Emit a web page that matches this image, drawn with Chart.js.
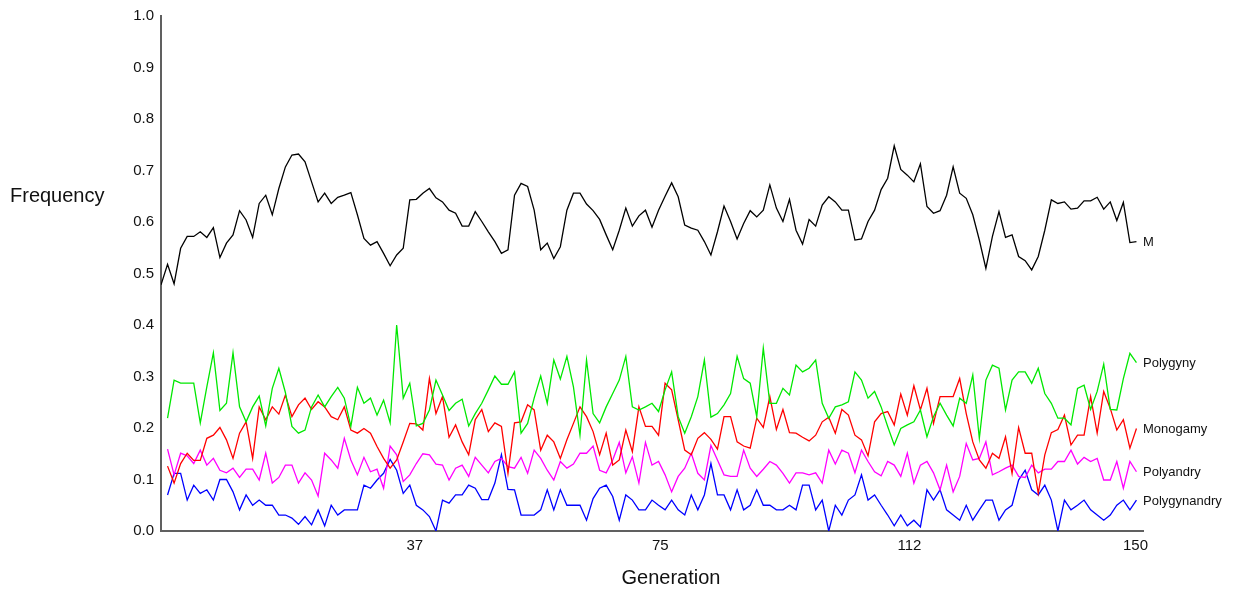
<!DOCTYPE html>
<html>
<head>
<meta charset="utf-8">
<title>Mating system frequencies by generation</title>
<script src="https://cdn.jsdelivr.net/npm/chart.js@4/dist/chart.umd.min.js"></script>
<style>
  html, body { margin: 0; padding: 0; background: #fff; }
  #wrap { width: 1234px; height: 593px; position: relative; }
</style>
</head>
<body>
<div id="wrap"><canvas id="chart"></canvas></div>
<script>
// Generations 0..149
const generations = Array.from({ length: 150 }, (_, i) => i);

// Labels shown on the generation axis (quarter points of 150)
const xTickLabels = ['37', '75', '112', '150'];

// Frequency of M
const freqM = [
  0.478, 0.518, 0.480, 0.549, 0.572, 0.572, 0.581, 0.570, 0.589, 0.531,
  0.559, 0.575, 0.622, 0.604, 0.570, 0.636, 0.652, 0.614, 0.665, 0.707,
  0.730, 0.732, 0.717, 0.678, 0.639, 0.656, 0.636, 0.648, 0.652, 0.657,
  0.614, 0.568, 0.555, 0.562, 0.539, 0.515, 0.536, 0.549, 0.643, 0.644,
  0.656, 0.665, 0.647, 0.639, 0.623, 0.617, 0.592, 0.592, 0.620, 0.601,
  0.581, 0.562, 0.539, 0.546, 0.652, 0.675, 0.669, 0.623, 0.546, 0.559,
  0.529, 0.552, 0.623, 0.656, 0.656, 0.635, 0.622, 0.605, 0.575, 0.546,
  0.584, 0.627, 0.592, 0.612, 0.623, 0.590, 0.623, 0.650, 0.676, 0.649,
  0.594, 0.588, 0.584, 0.562, 0.536, 0.581, 0.631, 0.601, 0.567, 0.597,
  0.622, 0.610, 0.623, 0.672, 0.627, 0.601, 0.644, 0.584, 0.557, 0.605,
  0.592, 0.633, 0.649, 0.639, 0.623, 0.623, 0.565, 0.567, 0.601, 0.623,
  0.663, 0.685, 0.748, 0.702, 0.691, 0.678, 0.713, 0.630, 0.617, 0.622,
  0.652, 0.707, 0.656, 0.646, 0.614, 0.565, 0.510, 0.572, 0.620, 0.570,
  0.575, 0.533, 0.525, 0.507, 0.533, 0.584, 0.643, 0.636, 0.639, 0.625,
  0.627, 0.641, 0.641, 0.648, 0.625, 0.639, 0.603, 0.638, 0.560, 0.562
];

// Frequency of Polygyny (no value at generation 0)
const freqPolygyny = [
  null, 0.219, 0.293, 0.287, 0.287, 0.287, 0.210, 0.280, 0.346, 0.234,
  0.248, 0.346, 0.241, 0.212, 0.241, 0.262, 0.204, 0.277, 0.316, 0.269,
  0.203, 0.190, 0.196, 0.241, 0.264, 0.241, 0.261, 0.279, 0.258, 0.203,
  0.279, 0.248, 0.258, 0.225, 0.254, 0.210, 0.400, 0.258, 0.287, 0.204,
  0.209, 0.235, 0.293, 0.264, 0.234, 0.248, 0.256, 0.204, 0.228, 0.248,
  0.274, 0.301, 0.285, 0.285, 0.309, 0.190, 0.209, 0.258, 0.301, 0.248,
  0.332, 0.295, 0.339, 0.280, 0.186, 0.332, 0.228, 0.210, 0.241, 0.267,
  0.293, 0.339, 0.241, 0.235, 0.241, 0.248, 0.232, 0.274, 0.309, 0.222,
  0.190, 0.222, 0.261, 0.332, 0.221, 0.228, 0.245, 0.267, 0.339, 0.296,
  0.287, 0.222, 0.355, 0.248, 0.248, 0.277, 0.264, 0.322, 0.309, 0.316,
  0.332, 0.248, 0.219, 0.241, 0.245, 0.251, 0.309, 0.293, 0.258, 0.271,
  0.241, 0.203, 0.167, 0.199, 0.206, 0.212, 0.235, 0.183, 0.222, 0.248,
  0.225, 0.204, 0.258, 0.248, 0.303, 0.180, 0.293, 0.322, 0.316, 0.235,
  0.293, 0.309, 0.309, 0.287, 0.316, 0.267, 0.248, 0.219, 0.219, 0.206,
  0.277, 0.283, 0.236, 0.271, 0.324, 0.236, 0.235, 0.296, 0.345, 0.327
];

// Frequency of Monogamy
const freqMonogamy = [
  null, 0.126, 0.093, 0.131, 0.151, 0.137, 0.137, 0.180, 0.186, 0.201,
  0.177, 0.141, 0.190, 0.212, 0.141, 0.241, 0.216, 0.241, 0.227, 0.264,
  0.222, 0.245, 0.258, 0.236, 0.251, 0.241, 0.222, 0.216, 0.241, 0.196,
  0.190, 0.199, 0.190, 0.164, 0.141, 0.122, 0.138, 0.173, 0.209, 0.208,
  0.196, 0.296, 0.228, 0.261, 0.182, 0.206, 0.173, 0.148, 0.216, 0.236,
  0.193, 0.210, 0.203, 0.112, 0.210, 0.212, 0.245, 0.235, 0.157, 0.186,
  0.173, 0.141, 0.177, 0.209, 0.241, 0.222, 0.193, 0.148, 0.190, 0.128,
  0.138, 0.196, 0.154, 0.241, 0.203, 0.203, 0.186, 0.287, 0.274, 0.216,
  0.157, 0.148, 0.180, 0.191, 0.178, 0.159, 0.222, 0.222, 0.173, 0.165,
  0.161, 0.219, 0.201, 0.261, 0.197, 0.236, 0.191, 0.190, 0.182, 0.175,
  0.186, 0.212, 0.221, 0.190, 0.236, 0.225, 0.186, 0.177, 0.146, 0.212,
  0.228, 0.232, 0.206, 0.266, 0.225, 0.282, 0.235, 0.277, 0.209, 0.261,
  0.261, 0.261, 0.296, 0.228, 0.173, 0.138, 0.122, 0.151, 0.141, 0.183,
  0.112, 0.201, 0.151, 0.151, 0.073, 0.148, 0.191, 0.197, 0.225, 0.167,
  0.186, 0.186, 0.261, 0.190, 0.271, 0.238, 0.196, 0.216, 0.161, 0.199
];

// Frequency of Polyandry
const freqPolyandry = [
  null, 0.159, 0.109, 0.151, 0.146, 0.131, 0.157, 0.128, 0.141, 0.118,
  0.113, 0.122, 0.104, 0.120, 0.120, 0.099, 0.151, 0.093, 0.104, 0.128,
  0.128, 0.093, 0.113, 0.099, 0.068, 0.151, 0.138, 0.122, 0.180, 0.138,
  0.109, 0.143, 0.115, 0.120, 0.083, 0.165, 0.148, 0.096, 0.109, 0.131,
  0.150, 0.148, 0.130, 0.128, 0.099, 0.122, 0.128, 0.106, 0.143, 0.128,
  0.113, 0.135, 0.141, 0.125, 0.122, 0.143, 0.112, 0.157, 0.141, 0.118,
  0.099, 0.135, 0.122, 0.130, 0.151, 0.151, 0.165, 0.118, 0.113, 0.138,
  0.172, 0.113, 0.144, 0.093, 0.172, 0.128, 0.135, 0.109, 0.076, 0.106,
  0.122, 0.151, 0.112, 0.099, 0.166, 0.138, 0.109, 0.106, 0.106, 0.157,
  0.122, 0.106, 0.120, 0.135, 0.128, 0.112, 0.093, 0.113, 0.113, 0.109,
  0.113, 0.093, 0.157, 0.130, 0.157, 0.151, 0.113, 0.157, 0.135, 0.115,
  0.107, 0.135, 0.128, 0.106, 0.151, 0.093, 0.128, 0.135, 0.113, 0.080,
  0.128, 0.076, 0.106, 0.170, 0.138, 0.141, 0.173, 0.109, 0.115, 0.122,
  0.128, 0.106, 0.104, 0.128, 0.113, 0.120, 0.120, 0.135, 0.135, 0.157,
  0.130, 0.143, 0.135, 0.141, 0.099, 0.099, 0.135, 0.083, 0.135, 0.115
];

// Frequency of Polygynandry
const freqPolygynandry = [
  null, 0.070, 0.112, 0.112, 0.060, 0.089, 0.073, 0.080, 0.060, 0.100,
  0.100, 0.076, 0.041, 0.070, 0.050, 0.060, 0.050, 0.050, 0.031, 0.031,
  0.025, 0.013, 0.028, 0.012, 0.041, 0.010, 0.050, 0.031, 0.041, 0.041,
  0.041, 0.089, 0.083, 0.099, 0.112, 0.139, 0.118, 0.073, 0.089, 0.050,
  0.041, 0.028, 0.000, 0.060, 0.054, 0.070, 0.070, 0.089, 0.083, 0.061,
  0.061, 0.093, 0.148, 0.081, 0.080, 0.031, 0.031, 0.031, 0.041, 0.080,
  0.041, 0.080, 0.050, 0.050, 0.050, 0.021, 0.063, 0.083, 0.089, 0.067,
  0.021, 0.070, 0.060, 0.041, 0.041, 0.060, 0.050, 0.041, 0.060, 0.041,
  0.031, 0.070, 0.041, 0.070, 0.131, 0.070, 0.070, 0.041, 0.080, 0.041,
  0.050, 0.080, 0.050, 0.050, 0.041, 0.041, 0.050, 0.041, 0.089, 0.089,
  0.041, 0.060, 0.000, 0.050, 0.031, 0.060, 0.070, 0.109, 0.060, 0.070,
  0.050, 0.031, 0.010, 0.031, 0.010, 0.021, 0.008, 0.080, 0.060, 0.080,
  0.041, 0.031, 0.021, 0.050, 0.021, 0.041, 0.060, 0.060, 0.021, 0.041,
  0.050, 0.099, 0.118, 0.080, 0.070, 0.089, 0.060, 0.000, 0.060, 0.041,
  0.050, 0.060, 0.041, 0.031, 0.021, 0.031, 0.050, 0.060, 0.041, 0.060
];

const FONT = '"Liberation Sans", Arial, Helvetica, sans-serif';

function series(label, data, color) {
  return {
    label, data,
    borderColor: color,
    backgroundColor: color,
    borderWidth: 1.3,
    pointRadius: 0,
    pointHoverRadius: 0,
    tension: 0,
    fill: false,
    spanGaps: false
  };
}

// Draws series names at their last value, the generation tick labels and axis titles
const annotations = {
  id: 'annotations',
  afterDraw(chart) {
    const { ctx, chartArea, scales: { x, y } } = chart;
    ctx.save();
    ctx.fillStyle = '#111';

    // series names at the right end of each line
    ctx.font = '13px ' + FONT;
    ctx.textAlign = 'left';
    ctx.textBaseline = 'middle';
    chart.data.datasets.forEach(ds => {
      const last = ds.data[ds.data.length - 1];
      ctx.fillText(ds.label, chartArea.right, y.getPixelForValue(last) + 1);
    });

    // generation tick labels: left-aligned on their tick, last one ends at the axis end
    ctx.font = '15px ' + FONT;
    ctx.textBaseline = 'middle';
    x.ticks.forEach((t, i, arr) => {
      const px = x.getPixelForValue(t.value);
      const isLast = i === arr.length - 1;
      ctx.textAlign = isLast ? 'right' : 'left';
      ctx.fillText(xTickLabels[i], isLast ? px + 5 : px, chartArea.bottom + 15);
    });

    // axis titles
    ctx.font = '20px ' + FONT;
    ctx.textAlign = 'left';
    ctx.fillText('Frequency', 10, 196);
    ctx.textAlign = 'center';
    ctx.fillText('Generation', (chartArea.left + chartArea.right) / 2 + 19, 578);
    ctx.restore();
  }
};

new Chart(document.getElementById('chart'), {
  type: 'line',
  data: {
    labels: generations,
    datasets: [
      series('M', freqM, '#000000'),
      series('Polygyny', freqPolygyny, '#00e800'),
      series('Monogamy', freqMonogamy, '#ff0000'),
      series('Polyandry', freqPolyandry, '#ff00ff'),
      series('Polygynandry', freqPolygynandry, '#0000ff')
    ]
  },
  options: {
    responsive: true,
    maintainAspectRatio: false,
    animation: false,
    events: [],
    layout: { padding: { top: 16, right: 91, left: 0, bottom: 0 } },
    plugins: {
      legend: { display: false },
      tooltip: { enabled: false },
      title: { display: false }
    },
    scales: {
      x: {
        type: 'linear',
        min: 0,
        max: 150,
        grid: { display: false },
        border: { display: true, color: '#606060', width: 2 },
        ticks: { display: false },
        afterBuildTicks(scale) {
          const n = xTickLabels.length;
          scale.ticks = xTickLabels.map((_, k) => ({ value: scale.max * (k + 1) / n }));
        },
        afterFit(scale) { scale.height = 62; }
      },
      y: {
        type: 'linear',
        min: 0,
        max: 1,
        grid: { display: false, drawTicks: false },
        border: { display: true, color: '#606060', width: 2 },
        ticks: {
          stepSize: 0.1,
          padding: 7,
          color: '#111',
          font: { family: FONT, size: 15 },
          callback: v => v.toFixed(1)
        },
        afterFit(scale) { scale.width = 161; }
      }
    }
  },
  plugins: [annotations]
});
</script>
</body>
</html>
